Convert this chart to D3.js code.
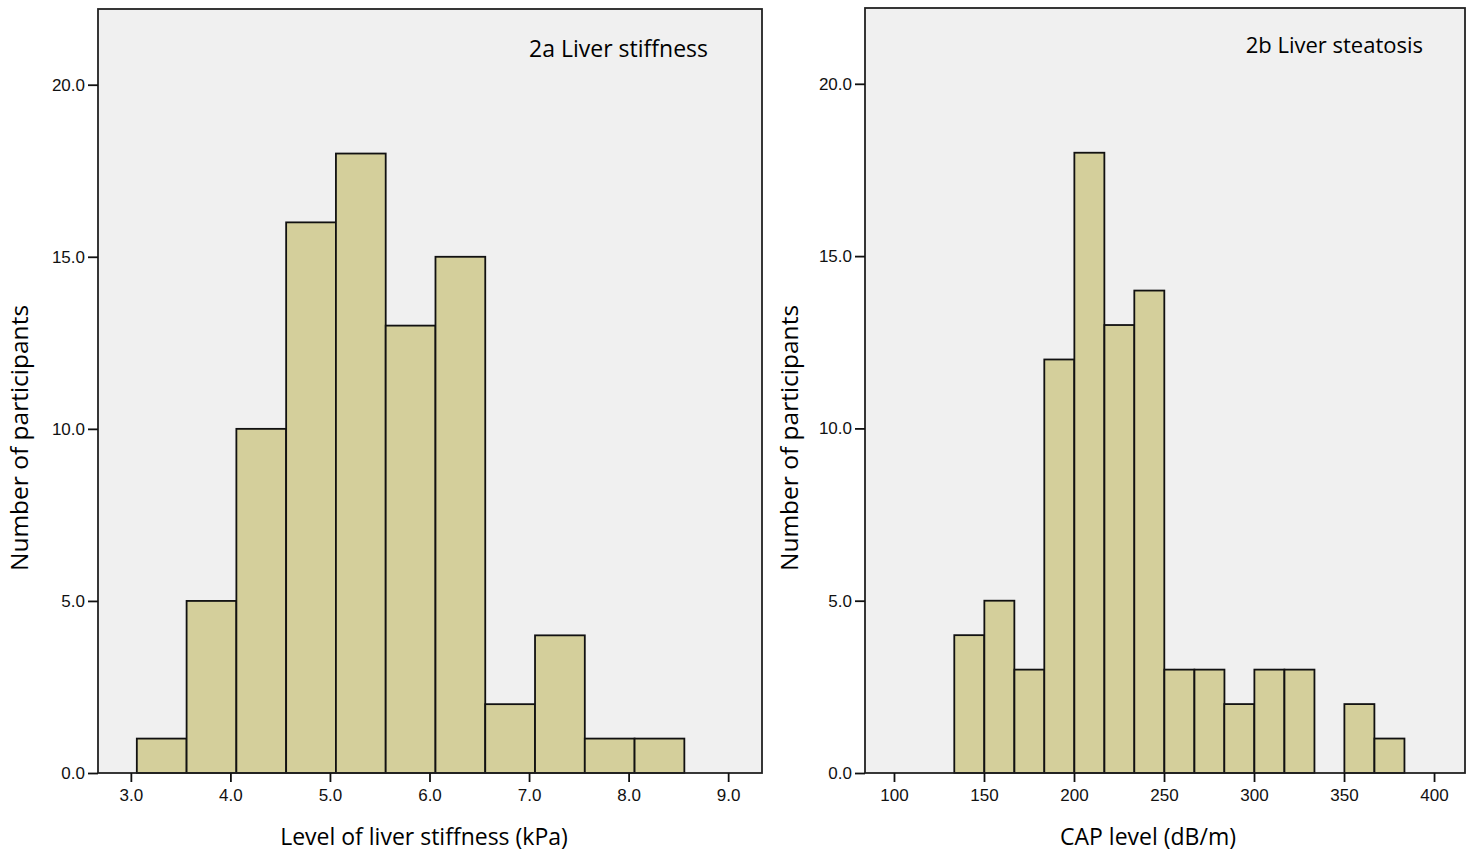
<!DOCTYPE html>
<html>
<head>
<meta charset="utf-8">
<script src="https://cdn.jsdelivr.net/npm/d3@7"></script>
<style>
  body { margin: 0; background: #fff; }
  svg { display: block; }
</style>
</head>
<body>
<svg id="chart" width="1473" height="855"></svg>
<script>
// 2a: liver stiffness bins (kPa), bin width 0.5
const stiffBinStarts = [3.06, 3.56, 4.06, 4.56, 5.06, 5.56, 6.06, 6.56, 7.06, 7.56, 8.06];
const stiffCounts = [1, 5, 10, 16, 18, 13, 15, 2, 4, 1, 1];
const stiffTicks = [3, 4, 5, 6, 7, 8, 9];

// 2b: CAP bins (dB/m), bin width ~16.67
const capBinStarts = [133.5, 150.2, 166.9, 183.5, 200.2, 216.9, 233.5, 250.2, 266.9, 283.5, 300.2, 316.9, 333.5, 350.2, 366.9];
const capCounts = [4, 5, 3, 12, 18, 13, 14, 3, 3, 2, 3, 3, 0, 2, 1];
const capTicks = [100, 150, 200, 250, 300, 350, 400];

const yTicks = [0, 5, 10, 15, 20];

const svg = d3.select("#chart");

const panels = [
    {
        title: "2a Liver stiffness", xLabel: "Level of liver stiffness (kPa)",
        starts: stiffBinStarts, counts: stiffCounts, width: 0.5,
        xDomain: [2.67, 9.34], xTicks: stiffTicks, xFmt: d3.format(".1f"),
        left: 98, right: 762, top: 9, bottom: 773,
        titleX: 708, titleY: 57, titleSize: 23, xLabelX: 424, yLabelX: 28
    },
    {
        title: "2b Liver steatosis", xLabel: "CAP level (dB/m)",
        starts: capBinStarts, counts: capCounts, width: 50 / 3,
        xDomain: [83.9, 417.2], xTicks: capTicks, xFmt: d3.format("d"),
        left: 865, right: 1465, top: 8, bottom: 773,
        titleX: 1423, titleY: 53, titleSize: 22, xLabelX: 1148, yLabelX: 798
    }
];

panels.forEach(p => {
    const g = svg.append("g");
    const x = d3.scaleLinear().domain(p.xDomain).range([p.left, p.right]);
    const y = d3.scaleLinear().domain([0, 22.2]).range([p.bottom, p.top]);

    // plot background
    g.append("rect")
        .attr("x", p.left).attr("y", p.top)
        .attr("width", p.right - p.left).attr("height", p.bottom - p.top)
        .attr("fill", "#f0f0f0");

    const bins = p.starts.map((s, i) => ({ x0: s, x1: s + p.width, n: p.counts[i] }))
        .filter(d => d.n > 0);

    g.selectAll("rect.bar")
        .data(bins)
        .join("rect")
        .attr("class", "bar")
        .attr("x", d => x(d.x0))
        .attr("y", d => y(d.n))
        .attr("width", d => x(d.x1) - x(d.x0))
        .attr("height", d => y(0) - y(d.n))
        .attr("fill", "#d4cf9b")
        .attr("stroke", "#111")
        .attr("stroke-width", 1.8);

    // frame
    g.append("rect")
        .attr("x", p.left).attr("y", p.top)
        .attr("width", p.right - p.left).attr("height", p.bottom - p.top)
        .attr("fill", "none")
        .attr("stroke", "#222")
        .attr("stroke-width", 1.8);

    const xAxis = g.append("g")
        .attr("transform", `translate(0,${p.bottom})`)
        .call(d3.axisBottom(x).tickValues(p.xTicks).tickFormat(p.xFmt).tickSize(9).tickPadding(7));
    xAxis.select(".domain").remove();

    const yAxis = g.append("g")
        .attr("transform", `translate(${p.left},0)`)
        .call(d3.axisLeft(y).tickValues(yTicks).tickFormat(d3.format(".1f")).tickSize(10).tickPadding(3));
    yAxis.select(".domain").remove();

    [xAxis, yAxis].forEach(a => {
        a.attr("font-size", null).attr("font-family", null);
        a.selectAll("line").attr("stroke", "#111").attr("stroke-width", 1.8);
        a.selectAll("text")
            .attr("fill", "#111")
            .style("font-family", "'Liberation Sans', Arial, sans-serif")
            .style("font-size", "17px");
    });

    g.append("text")
        .attr("x", p.titleX).attr("y", p.titleY)
        .attr("text-anchor", "end")
        .style("font-family", "'Open Sans', sans-serif")
        .style("font-size", p.titleSize + "px")
        .attr("fill", "#000")
        .text(p.title);

    g.append("text")
        .attr("x", p.xLabelX).attr("y", 845)
        .attr("text-anchor", "middle")
        .style("font-family", "'Open Sans', sans-serif")
        .style("font-size", "23px")
        .attr("fill", "#000")
        .text(p.xLabel);

    g.append("text")
        .attr("transform", `translate(${p.yLabelX},438) rotate(-90)`)
        .attr("text-anchor", "middle")
        .style("font-family", "'Open Sans', sans-serif")
        .style("font-size", "24.5px")
        .attr("fill", "#000")
        .text("Number of participants");
});
</script>
</body>
</html>
